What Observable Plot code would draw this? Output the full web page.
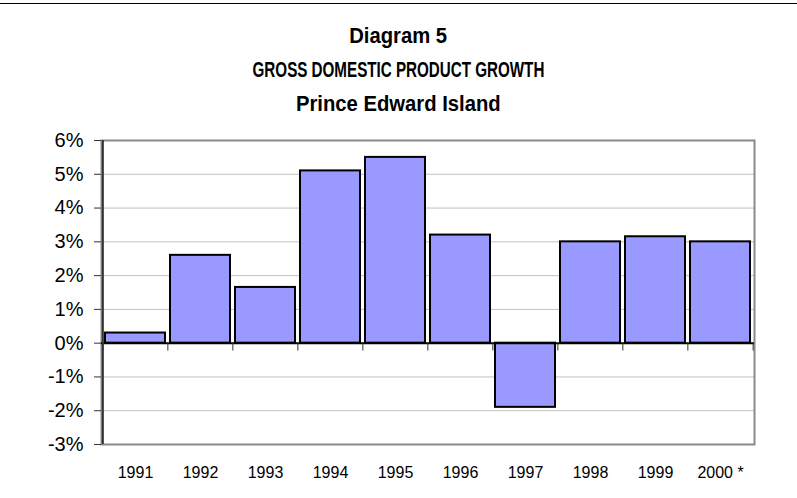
<!DOCTYPE html>
<html>
<head>
<meta charset="utf-8">
<script src="https://cdn.jsdelivr.net/npm/d3@7"></script>
<script src="https://cdn.jsdelivr.net/npm/@observablehq/plot@0.6"></script>
<style>
  html, body { margin: 0; padding: 0; background: #fff; }
  body { width: 797px; height: 498px; overflow: hidden; font-family: "Liberation Sans", Arial, sans-serif; }
  #topline { margin-top: 3px; height: 1px; background: #000; width: 797px; }
  #title { margin-top: 15px; width: 797px; text-align: center; font-weight: bold; font-size: 22px; line-height: 34px; color: #000; }
  #title span { display: inline-block; transform-origin: center; white-space: nowrap; }
  #t1 { transform: scaleX(0.92); }
  #t2 { transform: scaleX(0.69); }
  #t3 { transform: scaleX(0.92); }
</style>
</head>
<body>
<div id="topline"></div>
<div id="title">
  <div><span id="t1">Diagram 5</span></div>
  <div><span id="t2">GROSS DOMESTIC PRODUCT GROWTH</span></div>
  <div><span id="t3">Prince Edward Island</span></div>
</div>
<div id="chart"></div>
<script>
const years = ["1991", "1992", "1993", "1994", "1995", "1996", "1997", "1998", "1999", "2000 *"];
const growth = [0.3, 2.6, 1.65, 5.1, 5.5, 3.2, -1.9, 3.0, 3.15, 3.0];
const yTicks = [-3, -2, -1, 0, 1, 2, 3, 4, 5, 6];
const gridTicks = [-2, -1, 1, 2, 3, 4, 5];

const data = years.map((year, i) => ({year, value: growth[i]}));

const W = 797, H = 377;
const mL = 101, mR = 43, mT = 19, mB = 54;
const step = (W - mL - mR) / years.length;

const tickShape = {
  draw(context, l) { context.moveTo(0, 0); context.lineTo(0, -l); }
};

const chart = Plot.plot({
  width: W,
  height: H,
  marginLeft: mL,
  marginRight: mR,
  marginTop: mT,
  marginBottom: mB,
  style: {fontFamily: "'Liberation Sans', Arial, sans-serif", color: "#000", background: "#fff"},
  x: {type: "band", domain: years, paddingInner: 0.08, paddingOuter: 0.04, label: null},
  y: {domain: [-3, 6], label: null},
  marks: [
    Plot.gridY(gridTicks, {stroke: "#c0c0c0", strokeOpacity: 1, strokeWidth: 1}),
    Plot.frame({stroke: "#8a8a8a", strokeWidth: 2}),
    Plot.barY(data, {x: "year", y: "value", fill: "#9999ff", stroke: "#000", strokeWidth: 2}),
    Plot.ruleY([0], {stroke: "#000", strokeWidth: 2}),
    Plot.vector(years, {x: d => d, y: 0, length: 7, rotate: 180, anchor: "start", shape: tickShape, stroke: "#333", strokeWidth: 1, dx: -step / 2}),
    Plot.vector(years.slice(-1), {x: d => d, y: 0, length: 7, rotate: 180, anchor: "start", shape: tickShape, stroke: "#333", strokeWidth: 1, dx: step / 2}),
    Plot.ruleX(years.slice(0, 1), {x: d => d, dx: -step / 2, stroke: "#333", strokeWidth: 2}),
    Plot.axisY({ticks: yTicks, tickFormat: d => d + "%", tickSize: 7, tickPadding: 11, fontSize: 20, stroke: "#333"}),
    Plot.axisX({tickSize: 0, tickPadding: 22, fontSize: 16})
  ]
});
document.getElementById("chart").appendChild(chart);
</script>
</body>
</html>
